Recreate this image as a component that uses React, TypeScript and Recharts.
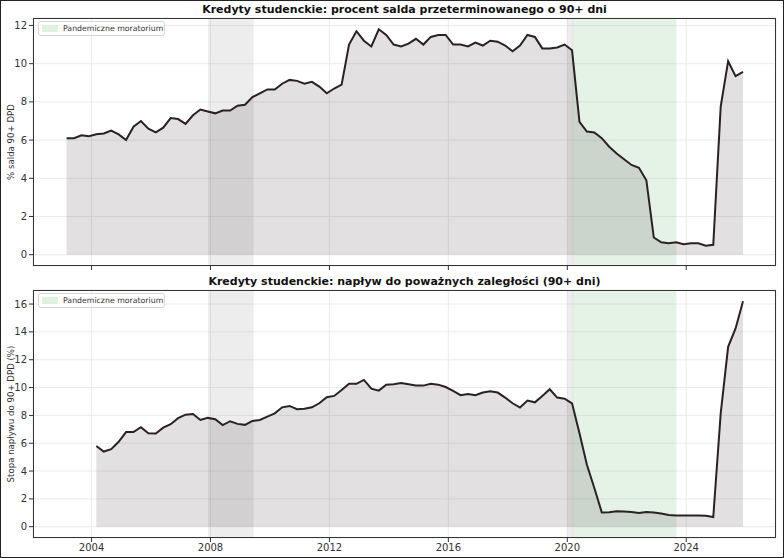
import {
  ComposedChart, Area, XAxis, YAxis, CartesianGrid, ReferenceArea,
} from 'recharts';

// Quarterly series, 2003Q1..2025Q4 (share of balance 90+ days delinquent, %)
const balanceStartYear = 2003;
const balance90 = [
  6.1, 6.1, 6.25, 6.2,
  6.3, 6.35, 6.5, 6.3,
  6.0, 6.7, 7.0, 6.6,
  6.4, 6.65, 7.15, 7.1,
  6.85, 7.3, 7.6, 7.5,
  7.4, 7.55, 7.55, 7.8,
  7.85, 8.25, 8.45, 8.65,
  8.65, 8.95, 9.15, 9.1,
  8.95, 9.05, 8.8, 8.45,
  8.7, 8.9, 11.0, 11.7,
  11.2, 10.9, 11.8, 11.5,
  11.0, 10.9, 11.05, 11.3,
  11.0, 11.4, 11.5, 11.5,
  11.0, 11.0, 10.9, 11.1,
  10.95, 11.2, 11.15, 10.95,
  10.65, 10.95, 11.5, 11.4,
  10.8, 10.8, 10.85, 11.0,
  10.7, 6.95, 6.45, 6.4,
  6.1, 5.65, 5.3, 5.0,
  4.7, 4.55, 3.9, 0.9,
  0.65, 0.6, 0.65, 0.55,
  0.6, 0.6, 0.47, 0.52,
  7.75, 10.13, 9.35, 9.57,
];

// Quarterly series, 2004Q1..2025Q4 (flow into 90+ delinquency, %)
const flowStartYear = 2004;
const flow90 = [
  5.8, 5.4, 5.57, 6.1,
  6.8, 6.8, 7.15, 6.72,
  6.7, 7.12, 7.37, 7.8,
  8.05, 8.1, 7.67, 7.82,
  7.72, 7.3, 7.58, 7.39,
  7.32, 7.6, 7.67, 7.91,
  8.15, 8.58, 8.68, 8.44,
  8.47, 8.58, 8.87, 9.3,
  9.4, 9.83, 10.28, 10.27,
  10.55, 9.92, 9.78, 10.21,
  10.23, 10.33, 10.23, 10.14,
  10.14, 10.28, 10.21, 10.04,
  9.76, 9.45, 9.54, 9.45,
  9.64, 9.73, 9.64, 9.28,
  8.87, 8.56, 9.06, 8.94,
  9.4, 9.88, 9.28, 9.2,
  8.87, 6.72, 4.45, 2.78,
  1.03, 1.04, 1.12, 1.1,
  1.06, 0.98, 1.06, 1.03,
  0.95, 0.84, 0.8, 0.8,
  0.8, 0.8, 0.78, 0.7,
  8.15, 12.93, 14.25, 16.2,
];

const yearTicks = [2004, 2008, 2012, 2016, 2020, 2024];
const balanceTicks = [0, 2, 4, 6, 8, 10, 12];
const flowTicks = [0, 2, 4, 6, 8, 10, 12, 14, 16];

const recessions = [[2007.92, 2009.45], [2020.0, 2020.2]];
const moratorium = [2020.18, 2023.67];

const titleTop = 'Kredyty studenckie: procent salda przeterminowanego o 90+ dni';
const titleBottom = 'Kredyty studenckie: napływ do poważnych zaległości (90+ dni)';
const yLabelTop = '% salda 90+ DPD';
const yLabelBottom = 'Stopa napływu do 90+ DPD (%)';
const legendLabel = 'Pandemiczne moratorium';

const FONT = '"DejaVu Sans", sans-serif';
const X_DOMAIN: [number, number] = [2002.03, 2027.02];

const toRows = (startYear: number, values: number[]) =>
  values.map((v, i) => ({ t: startYear + i * 0.25 + 0.16, v }));

const balanceRows = toRows(balanceStartYear, balance90);
const flowRows = toRows(flowStartYear, flow90);

interface PanelProps {
  top: number;
  height: number;
  rows: { t: number; v: number }[];
  yDomain: [number, number];
  yTicks: number[];
  showXLabels: boolean;
  title: string;
  yLabel: string;
}

function Panel({ top, height, rows, yDomain, yTicks, showXLabels, title, yLabel }: PanelProps) {
  const xAxisHeight = showXLabels ? 20 : 14;
  const plotTop = top + 18;
  const plotBottom = top + height - xAxisHeight;
  const tickStyle = { fill: '#333', fontSize: 10, fontFamily: FONT };

  return (
    <>
      <div style={{ position: 'absolute', left: 0, top }}>
        <ComposedChart
          width={784}
          height={height}
          data={rows}
          margin={{ top: 18, right: 8, bottom: 0, left: 5 }}
        >
          <CartesianGrid stroke="#e6e6e6" strokeWidth={0.8} />
          <XAxis
            dataKey="t"
            type="number"
            domain={X_DOMAIN}
            ticks={yearTicks}
            allowDataOverflow
            height={xAxisHeight}
            tickSize={4}
            tickLine={{ stroke: '#333' }}
            axisLine={false}
            tick={tickStyle}
            tickFormatter={(v: number) => (showXLabels ? String(v) : '')}
          />
          <YAxis
            type="number"
            domain={yDomain}
            ticks={yTicks}
            allowDataOverflow
            width={28}
            tickSize={4}
            tickLine={{ stroke: '#333' }}
            axisLine={false}
            tick={tickStyle}
          />
          {recessions.map(([a, b], i) => (
            <ReferenceArea key={i} x1={a} x2={b} fill="#9a9a9a" fillOpacity={0.18} stroke="none" />
          ))}
          <ReferenceArea x1={moratorium[0]} x2={moratorium[1]} fill="#4caf50" fillOpacity={0.15} stroke="none" />
          <Area
            type="linear"
            dataKey="v"
            baseValue={0}
            stroke="#2b2025"
            strokeWidth={2}
            fill="#3a2e36"
            fillOpacity={0.15}
            dot={false}
            activeDot={false}
            isAnimationActive={false}
          />
        </ComposedChart>
      </div>
      {/* axes frame */}
      <div
        style={{
          position: 'absolute', left: 33, top: plotTop, width: 743, height: plotBottom - plotTop,
          border: '1px solid #333', boxSizing: 'border-box', pointerEvents: 'none',
        }}
      />
      <div
        style={{
          position: 'absolute', left: 33, width: 743, top: top + 3, textAlign: 'center',
          fontFamily: FONT, fontWeight: 'bold', fontSize: 11, color: '#111', whiteSpace: 'nowrap',
        }}
      >
        {title}
      </div>
      <div
        style={{
          position: 'absolute', left: 11, top: (plotTop + plotBottom) / 2, width: 0, height: 0,
        }}
      >
        <div
          style={{
            position: 'absolute', transform: 'translate(-50%, -50%) rotate(-90deg)',
            fontFamily: FONT, fontSize: 8.6, color: '#333', whiteSpace: 'nowrap',
          }}
        >
          {yLabel}
        </div>
      </div>
      <div
        style={{
          position: 'absolute', left: 38, top: plotTop + 3, width: 127, height: 15, paddingLeft: 3,
          display: 'flex', alignItems: 'center', gap: 5,
          background: 'rgba(255,255,255,0.85)', border: '1px solid #d6d6d6', borderRadius: 3,
          fontFamily: FONT, fontSize: 7.8, color: '#333', boxSizing: 'border-box', whiteSpace: 'nowrap',
        }}
      >
        <span style={{ display: 'inline-block', width: 16, height: 7, background: 'rgba(76,175,80,0.18)' }} />
        <span>{legendLabel}</span>
      </div>
    </>
  );
}

export default function App() {
  return (
    <div
      style={{
        position: 'absolute', left: 0, top: 0, width: 784, height: 558, background: '#fff',
        overflow: 'hidden', boxSizing: 'border-box',
      }}
    >
      <Panel
        top={0}
        height={280}
        rows={balanceRows}
        yDomain={[-0.59, 12.39]}
        yTicks={balanceTicks}
        showXLabels={false}
        title={titleTop}
        yLabel={yLabelTop}
      />
      <Panel
        top={272}
        height={286}
        rows={flowRows}
        yDomain={[-0.81, 17.01]}
        yTicks={flowTicks}
        showXLabels
        title={titleBottom}
        yLabel={yLabelBottom}
      />
      <div
        style={{
          position: 'absolute', left: 0, top: 0, width: 784, height: 558,
          border: '1px solid #222', boxSizing: 'border-box', pointerEvents: 'none',
        }}
      />
    </div>
  );
}
